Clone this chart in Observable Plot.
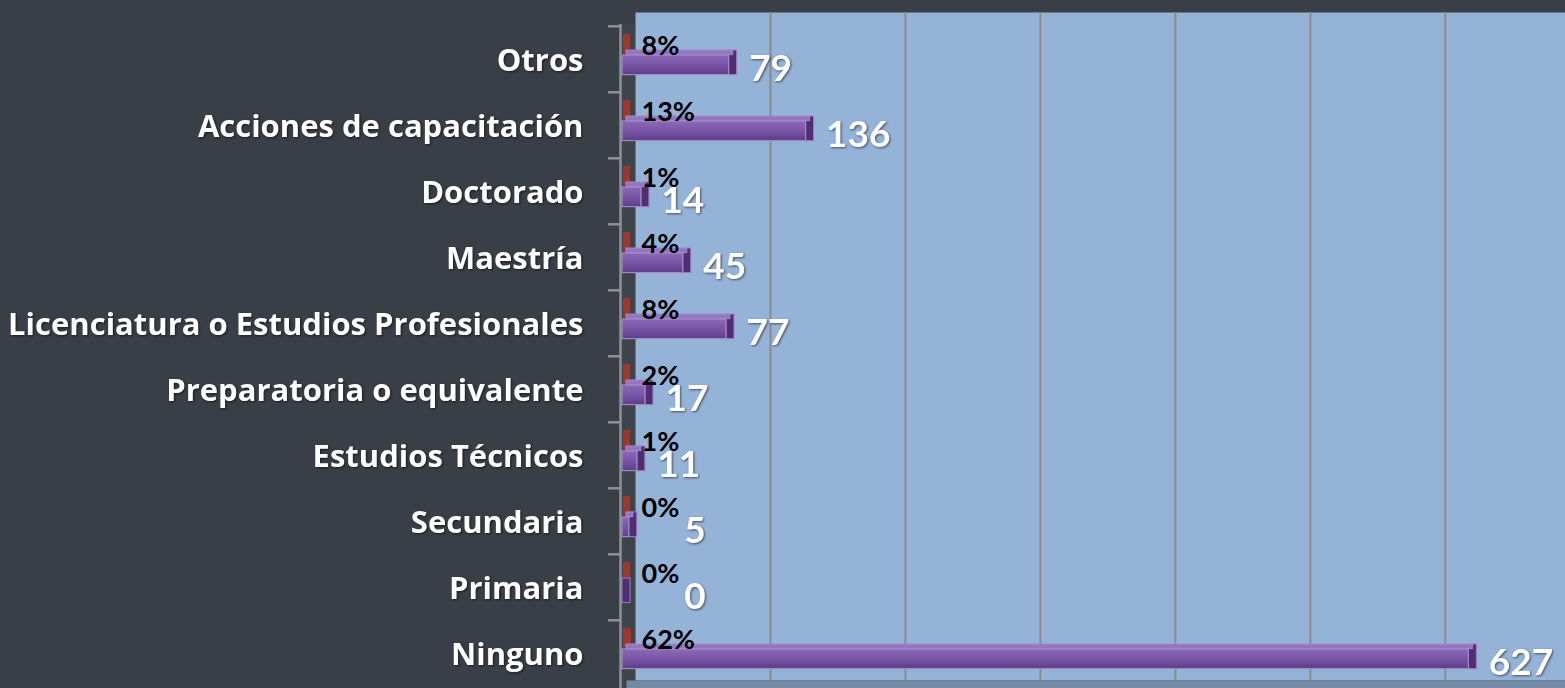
<!DOCTYPE html>
<html>
<head>
<meta charset="utf-8">
<script src="https://cdn.jsdelivr.net/npm/d3@7"></script>
<script src="https://cdn.jsdelivr.net/npm/@observablehq/plot@0.6"></script>
<style>
  html, body { margin: 0; padding: 0; background: #383F47; }
  #chart { width: 1565px; height: 688px; overflow: hidden; }
</style>
</head>
<body>
<div id="chart"></div>
<script>
const categories = ["Otros","Acciones de capacitación","Doctorado","Maestría","Licenciatura o Estudios Profesionales","Preparatoria o equivalente","Estudios Técnicos","Secundaria","Primaria","Ninguno"];
const counts = [79, 136, 14, 45, 77, 17, 11, 5, 0, 627];
const percents = [8, 13, 1, 4, 8, 2, 1, 0, 0, 62];
const gridTicks = [100, 200, 300, 400, 500, 600];

const data = categories.map((c, i) => ({cat: c, count: counts[i], pct: percents[i]}));
const bw = (688 - 24) / categories.length;

const svg = Plot.plot({
  width: 1565,
  height: 688,
  marginLeft: 620,
  marginRight: 0,
  marginTop: 12,
  marginBottom: 0,
  x: {domain: [0, 689], range: [635, 1565], axis: null},
  y: {domain: categories, range: [24, 688], padding: 0, axis: null},
  style: {background: "transparent", fontFamily: "Lato, 'Open Sans', sans-serif", fontWeight: "bold", color: "white"},
  marks: [
    Plot.frame({fill: "#3D444C", insetRight: 930, insetTop: 12}),
    Plot.frame({fill: "#95B3D7", insetLeft: 15, insetBottom: 8}),
    Plot.frame({fill: "#7389A4", insetLeft: 6, insetTop: 668}),
    Plot.ruleX(gridTicks, {stroke: "#8B8B8B", strokeWidth: 2, insetBottom: 8}),
    Plot.ruleX([0], {dx: -15, stroke: "#8E9399", strokeWidth: 2.5, insetTop: 12}),
    Plot.ruleY(categories, {dy: -bw / 2, stroke: "#8E9399", strokeWidth: 2.5, insetLeft: -12, insetRight: 945}),
    Plot.barX(data, {x1: 0, x2: d => d.pct / 100, y: "cat", dx: -12, insetRight: -7, insetTop: 8, insetBottom: bw - 28, fill: "#A3352F"}),
    Plot.barX(data, {x1: d => d.count, x2: d => d.count, y: "cat", dx: -13, insetRight: -8, insetTop: 24, insetBottom: bw - 49, fill: "#4F2F72", stroke: "#9B7FC2", strokeWidth: 1}),
    Plot.barX(data, {x: "count", y: "cat", dx: -9, insetTop: 24, insetBottom: bw - 29, fill: "#9276BE", stroke: "#A48ACB", strokeWidth: 1}),
    Plot.barX(data, {x: "count", y: "cat", dx: -13, insetTop: 29, insetBottom: bw - 49, fill: "url(#purpGrad)", stroke: "#A08AC6", strokeWidth: 1.2}),
    Plot.text(data, {x: 0, y: "cat", text: d => d.pct + "%", textAnchor: "start", dx: 6, dy: -13, fontSize: 27, fontWeight: 700, fill: "black"}),
    Plot.text(data, {x: d => d.count < 10 ? 31 : d.count, y: "cat", text: d => String(d.count), textAnchor: "start", dx: 7, dy: 10, fontSize: 37, fontWeight: 700, fill: "white"}),
    Plot.text(data, {y: "cat", text: "cat", frameAnchor: "left", textAnchor: "end", dx: -37, dy: 2, fontSize: 31, fontWeight: 700, fill: "white", fontFamily: "'Open Sans', Lato, sans-serif"})
  ]
});

d3.select(svg).insert("defs", ":first-child").html(
  '<linearGradient id="purpGrad" x1="0" y1="0" x2="0" y2="1">' +
  '<stop offset="0" stop-color="#8C69B8"/><stop offset="0.5" stop-color="#7A55A6"/><stop offset="1" stop-color="#5E3D88"/>' +
  '</linearGradient>'
);
d3.select(svg).selectAll("text").filter(function() {
  const f = this.getAttribute("fill") || this.parentNode.getAttribute("fill");
  return f === "white";
}).style("filter", "drop-shadow(1.5px 1.5px 1px rgba(0,0,0,0.55))");
document.getElementById("chart").appendChild(svg);
</script>
</body>
</html>
